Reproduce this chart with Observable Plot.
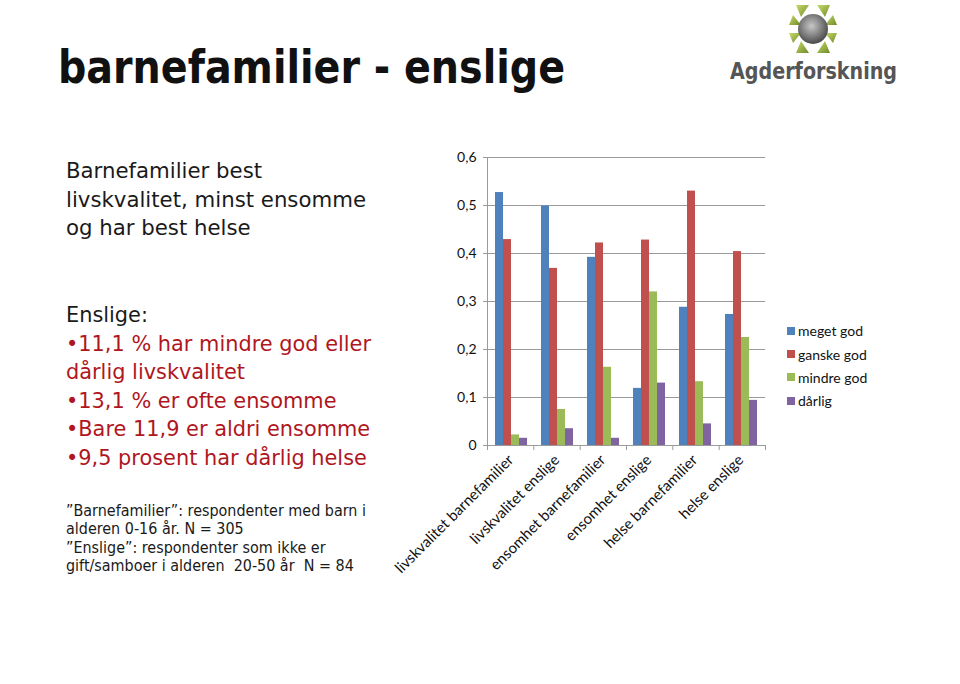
<!DOCTYPE html>
<html><head><meta charset="utf-8">
<script src="https://cdn.jsdelivr.net/npm/d3@7"></script>
<script src="https://cdn.jsdelivr.net/npm/@observablehq/plot@0.6"></script>
<style>
html,body{margin:0;padding:0;background:#fff;}
#page{position:relative;width:960px;height:684px;overflow:hidden;background:#fff;}
.abs{position:absolute;}
.line{white-space:nowrap;display:block;width:max-content;}
.block{transform-origin:0 0;}
#title{left:58px;top:44px;font-family:"DejaVu Sans";font-weight:bold;font-size:46px;line-height:46px;color:#111;}
#b1{left:66px;top:157px;font-family:"DejaVu Sans";font-size:21px;line-height:28.6px;color:#1a1a1a;}
#b2{left:66px;top:301px;font-family:"DejaVu Sans";font-size:21px;line-height:28.6px;color:#B0161E;}
#b2 .first{color:#1a1a1a;}
#b3{left:66px;top:502px;font-family:"DejaVu Sans";font-size:15.5px;line-height:18.3px;color:#1a1a1a;}
#logoText{left:730px;top:58px;font-family:"DejaVu Sans";font-weight:bold;font-size:23px;line-height:26px;color:#555;}
#chart{left:400px;top:140px;}
#chart svg{position:absolute;left:0;top:0;}
#legend{left:787px;top:319px;font-family:Lato,"Open Sans",sans-serif;font-size:14px;color:#111;}
#legend .row{display:flex;align-items:center;height:23.4px;}
#legend .sw{width:8px;height:8px;margin-right:3px;}
</style></head>
<body><div id="page">
<div id="title" class="abs block" data-w="507"><span class="line">barnefamilier - enslige</span></div>
<div id="b1" class="abs block" data-w="300">
<span class="line">Barnefamilier best</span>
<span class="line">livskvalitet, minst ensomme</span>
<span class="line">og har best helse</span>
</div>
<div id="b2" class="abs block" data-w="305">
<span class="line first">Enslige:</span>
<span class="line">•11,1 % har mindre god eller</span>
<span class="line">dårlig livskvalitet</span>
<span class="line">•13,1 % er ofte ensomme</span>
<span class="line">•Bare 11,9 er aldri ensomme</span>
<span class="line">•9,5 prosent har dårlig helse</span>
</div>
<div id="b3" class="abs block" data-w="300">
<span class="line">”Barnefamilier”: respondenter med barn i</span>
<span class="line">alderen 0-16 år. N = 305</span>
<span class="line">”Enslige”: respondenter som ikke er</span>
<span class="line">gift/samboer i alderen&nbsp; 20-50 år&nbsp; N = 84</span>
</div>
<svg class="abs" style="left:785px;top:2px" width="56" height="54" viewBox="0 0 56 54">
<defs><radialGradient id="rg" cx="0.45" cy="0.4" r="0.6"><stop offset="0" stop-color="#c8c8c8"/><stop offset="1" stop-color="#4a4a4a"/></radialGradient>
<linearGradient id="gg" x1="0" y1="0" x2="1" y2="1"><stop offset="0" stop-color="#c9dc6a"/><stop offset="1" stop-color="#6f8a2a"/></linearGradient></defs>
<g transform="translate(28,27)">
<g fill="url(#gg)">
<polygon points="-4,-24 -17,-24 -12,-12"/><polygon points="4,-24 17,-24 12,-12"/>
<polygon points="-4,24 -17,24 -12,12"/><polygon points="4,24 17,24 12,12"/>
<polygon points="-24,-4 -20,-14 -12,-4"/><polygon points="-24,4 -20,14 -12,4"/>
<polygon points="24,-4 20,-14 12,-4"/><polygon points="24,4 20,14 12,4"/>
</g>
<circle r="15" fill="url(#rg)"/>
</g></svg>
<div id="logoText" class="abs block" data-w="167"><span class="line">Agderforskning</span></div>
<div id="chart" class="abs"></div>
<div id="legend" class="abs"></div>
</div>
<script>
const categories = ["livskvalitet barnefamilier", "livskvalitet enslige", "ensomhet barnefamilier", "ensomhet enslige", "helse barnefamilier", "helse enslige"];
const series = ["meget god", "ganske god", "mindre god", "dårlig"];
const megetGod  = [0.527, 0.499, 0.392, 0.119, 0.288, 0.273];
const ganskeGod = [0.429, 0.369, 0.422, 0.428, 0.530, 0.404];
const mindreGod = [0.022, 0.075, 0.163, 0.320, 0.133, 0.225];
const darlig    = [0.015, 0.035, 0.015, 0.130, 0.045, 0.094];
const colors = ["#4F81BD", "#C0504D", "#9BBB59", "#8064A2"];
const yTicks = [0, 0.1, 0.2, 0.3, 0.4, 0.5, 0.6];

const valuesBySeries = [megetGod, ganskeGod, mindreGod, darlig];
const data = [];
categories.forEach((c, i) => series.forEach((s, j) => data.push({cat: c, ser: s, val: valuesBySeries[j][i]})));
const boundaries = d3.range(categories.length + 1);

const W = 400, H = 460;
const common = {width: W, height: H, marginLeft: 87, marginRight: 35, marginTop: 17, marginBottom: 155};
const fmt = d => d === 0 ? "0" : d.toFixed(1).replace(".", ",");
const gray = "#9a9a9a";

const bg = Plot.plot({
  ...common,
  style: {background: "transparent", fontFamily: "Lato, 'Open Sans', sans-serif", fontSize: "14px", color: "#111", overflow: "visible"},
  x: {domain: [0, categories.length], ticks: boundaries, tickSize: 5, tickFormat: () => "", label: null},
  y: {domain: [0, 0.6], ticks: yTicks, tickSize: 4, tickPadding: 7, tickFormat: fmt, label: null},
  marks: [
    Plot.ruleY(yTicks.filter(d => d > 0), {stroke: gray, strokeWidth: 1, strokeOpacity: 1}),
    Plot.ruleX([0], {stroke: gray}),
    Plot.ruleY([0], {stroke: gray})
  ]
});
bg.querySelectorAll("g[aria-label='y-axis'] line, g[aria-label='x-axis'] line, g[aria-label='y-axis tick'] path, g[aria-label='x-axis tick'] path").forEach(el => el.setAttribute("stroke", gray));

const fg = Plot.plot({
  ...common,
  style: {background: "transparent", fontFamily: "Lato, 'Open Sans', sans-serif", fontSize: "15px", color: "#111", overflow: "visible"},
  fx: {domain: categories, paddingInner: 0.28, paddingOuter: 0.14, axis: "bottom", tickRotate: -45, tickSize: 0, tickPadding: 12, label: null},
  x: {domain: series, padding: 0, axis: null},
  y: {domain: [0, 0.6], axis: null},
  color: {domain: series, range: colors},
  marks: [
    Plot.barY(data, {fx: "cat", x: "ser", y: "val", fill: "ser"})
  ]
});

const chart = document.getElementById("chart");
chart.style.width = W + "px"; chart.style.height = H + "px";
chart.appendChild(bg); chart.appendChild(fg);

const cs = fg.scale("color");
const legend = document.getElementById("legend");
cs.domain.forEach((s, i) => {
  const row = document.createElement("div"); row.className = "row";
  const sw = document.createElement("div"); sw.className = "sw"; sw.style.background = cs.range[i];
  const t = document.createElement("span"); t.textContent = s;
  row.appendChild(sw); row.appendChild(t); legend.appendChild(row);
});

function fit() {
  document.querySelectorAll("[data-w]").forEach(el => {
    el.style.transform = "none";
    let w = 0;
    el.querySelectorAll(".line").forEach(l => { w = Math.max(w, l.getBoundingClientRect().width); });
    const target = +el.dataset.w;
    if (w > 0) el.style.transform = `scaleX(${target / w})`;
  });
}
fit();
if (document.fonts && document.fonts.ready) document.fonts.ready.then(fit);
</script>
</body></html>
